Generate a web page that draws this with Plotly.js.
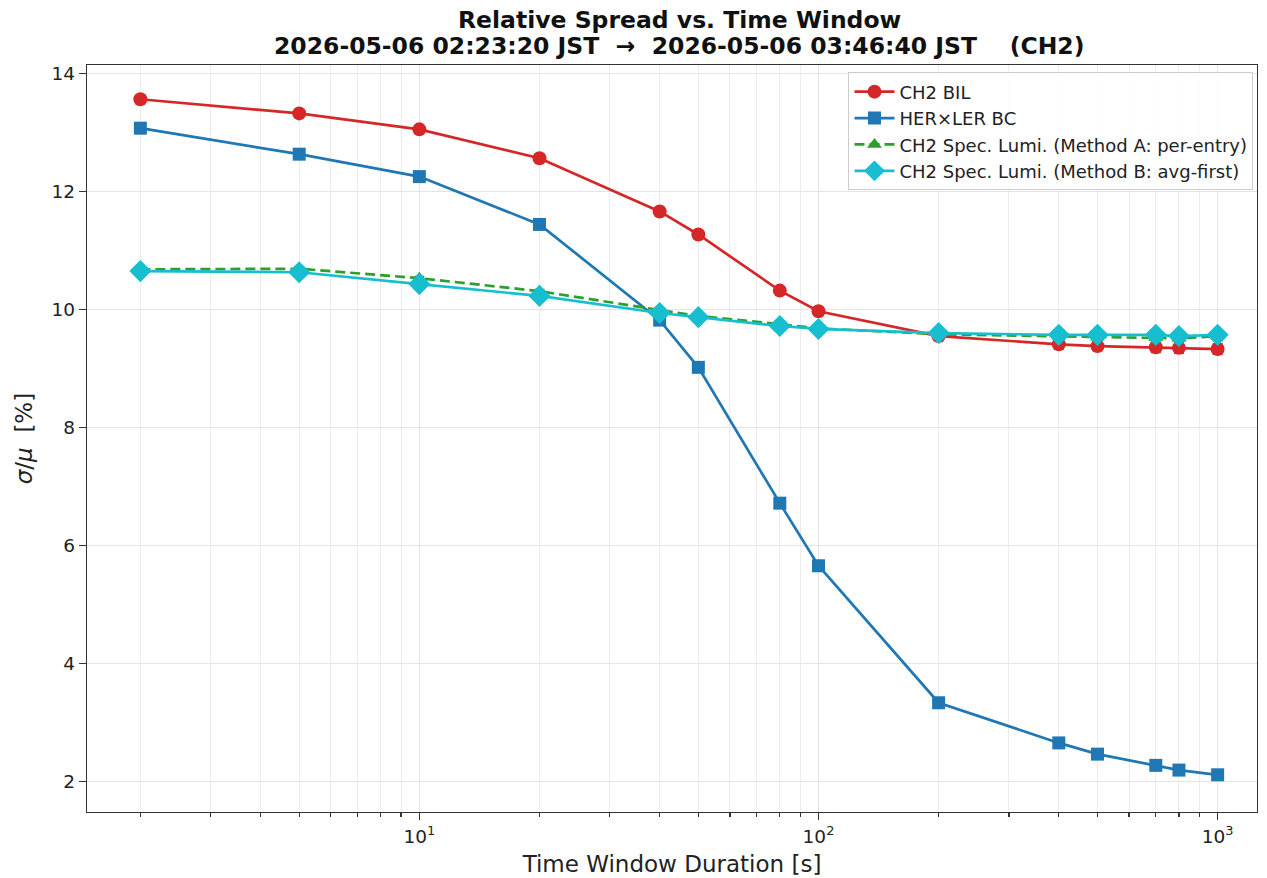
<!DOCTYPE html>
<html>
<head>
<meta charset="utf-8">
<script src="https://cdn.plot.ly/plotly-3.0.1.min.js"></script>
<style>html,body{margin:0;padding:0;background:#fff;}#chart{width:1267px;height:878px;}</style>
</head>
<body>
<div id="chart"></div>
<script>
const windows = [2, 5, 10, 20, 40, 50, 80, 100, 200, 400, 500, 700, 800, 1000];
const bil     = [13.56, 13.32, 13.05, 12.56, 11.66, 11.27, 10.32, 9.97, 9.55, 9.41, 9.38, 9.36, 9.35, 9.33];
const bc      = [13.07, 12.63, 12.25, 11.44, 9.82, 9.02, 6.72, 5.66, 3.34, 2.66, 2.47, 2.28, 2.20, 2.12];
const methodA = [10.68, 10.69, 10.53, 10.31, 9.99, 9.89, 9.75, 9.68, 9.58, 9.55, 9.53, 9.52, 9.51, 9.55];
const methodB = [10.65, 10.63, 10.43, 10.23, 9.94, 9.87, 9.72, 9.67, 9.60, 9.57, 9.57, 9.57, 9.55, 9.57];
const errBil  = [0.03, 0.03, 0.03, 0.04, 0.04, 0.05, 0.05, 0.06, 0.08, 0.08, 0.08, 0.09, 0.09, 0.09];
const errBc   = [0.03, 0.03, 0.03, 0.04, 0.05, 0.05, 0.06, 0.06, 0.06, 0.06, 0.06, 0.06, 0.06, 0.06];
const errA    = [0.03, 0.03, 0.03, 0.03, 0.04, 0.04, 0.05, 0.05, 0.06, 0.07, 0.07, 0.08, 0.08, 0.08];
const errB    = [0.03, 0.03, 0.03, 0.03, 0.04, 0.04, 0.05, 0.05, 0.06, 0.07, 0.07, 0.08, 0.08, 0.08];
const seriesNames = ['CH2 BIL', 'HER×LER BC', 'CH2 Spec. Lumi. (Method A: per-entry)', 'CH2 Spec. Lumi. (Method B: avg-first)'];
const titleLines = ['Relative Spread vs. Time Window', '2026-05-06 02:23:20 JST  →  2026-05-06 03:46:40 JST    (CH2)'];
const xTickVals = [10, 100, 1000];
const xTickText = ['10<sup>1</sup>', '10<sup>2</sup>', '10<sup>3</sup>'];

function tr(y, err, name, color, symbol, size, dash) {
  return {
    x: windows, y: y, name: name, type: 'scatter', mode: 'lines+markers',
    line: {color: color, width: 2.7, dash: dash},
    marker: {color: color, symbol: symbol, size: size},
    error_y: {type: 'data', array: err, visible: true, color: color, thickness: 1.5, width: 5}
  };
}
const data = [
  tr(bil, errBil, seriesNames[0], '#d62728', 'circle', 14, 'solid'),
  tr(bc, errBc, seriesNames[1], '#1f77b4', 'square', 13, 'solid'),
  tr(methodA, errA, seriesNames[2], '#2ca02c', 'triangle-up', 13, '10px,5px'),
  tr(methodB, errB, seriesNames[3], '#17becf', 'diamond', 17, 'solid')
];
const font = 'DejaVu Sans, sans-serif';
const plotTop = 65, plotBottom = 812;
function paperY(py) { return (plotBottom - py) / (plotBottom - plotTop); }
const layout = {
  width: 1267, height: 878,
  margin: {l: 87, r: 10, t: plotTop, b: 878 - plotBottom},
  paper_bgcolor: '#fff', plot_bgcolor: '#fff',
  font: {family: font, color: '#222', size: 18},
  annotations: [
    {text: '<b>' + titleLines[0] + '</b>', xref: 'paper', yref: 'paper', x: 0.506, y: paperY(20),
     xanchor: 'center', yanchor: 'middle', showarrow: false, font: {family: font, size: 23.5, color: '#111'}},
    {text: '<b>' + titleLines[1] + '</b>', xref: 'paper', yref: 'paper', x: 0.506, y: paperY(46),
     xanchor: 'center', yanchor: 'middle', showarrow: false, font: {family: font, size: 23.5, color: '#111'}}
  ],
  xaxis: {
    type: 'log', range: [Math.log10(1.47), Math.log10(1255)],
    tickvals: xTickVals, ticktext: xTickText,
    ticks: 'outside', ticklen: 7, tickwidth: 1.2, tickcolor: '#333',
    showgrid: true, gridcolor: '#e4e4e4', gridwidth: 1,
    minor: {dtick: 'D1', ticks: 'outside', ticklen: 4, tickcolor: '#333', showgrid: true, gridcolor: '#ececec', gridwidth: 1},
    showline: true, linecolor: '#333', linewidth: 1.3, mirror: true, zeroline: false,
    title: {text: 'Time Window Duration [s]', font: {family: font, size: 23, color: '#222'}, standoff: 10},
    tickfont: {family: font, size: 18.5, color: '#222'}
  },
  yaxis: {
    range: [1.49, 14.14], dtick: 2, tick0: 0,
    ticks: 'outside', ticklen: 7, tickwidth: 1.2, tickcolor: '#333',
    showgrid: true, gridcolor: '#e4e4e4', gridwidth: 1,
    showline: true, linecolor: '#333', linewidth: 1.3, mirror: true, zeroline: false,
    title: {text: '<i>σ</i>/<i>μ</i>  [%]', font: {family: font, size: 23, color: '#222'}, standoff: 12},
    tickfont: {family: font, size: 18.5, color: '#222'}
  },
  legend: {
    x: 0.997, xanchor: 'right', y: 0.99, yanchor: 'top',
    bgcolor: 'rgba(255,255,255,0.85)', bordercolor: '#cccccc', borderwidth: 1,
    font: {family: font, size: 18, color: '#222'}, tracegroupgap: 0, itemwidth: 40
  },
  showlegend: true
};
Plotly.newPlot('chart', data, layout, {displayModeBar: false, staticPlot: true});
</script>
</body>
</html>
